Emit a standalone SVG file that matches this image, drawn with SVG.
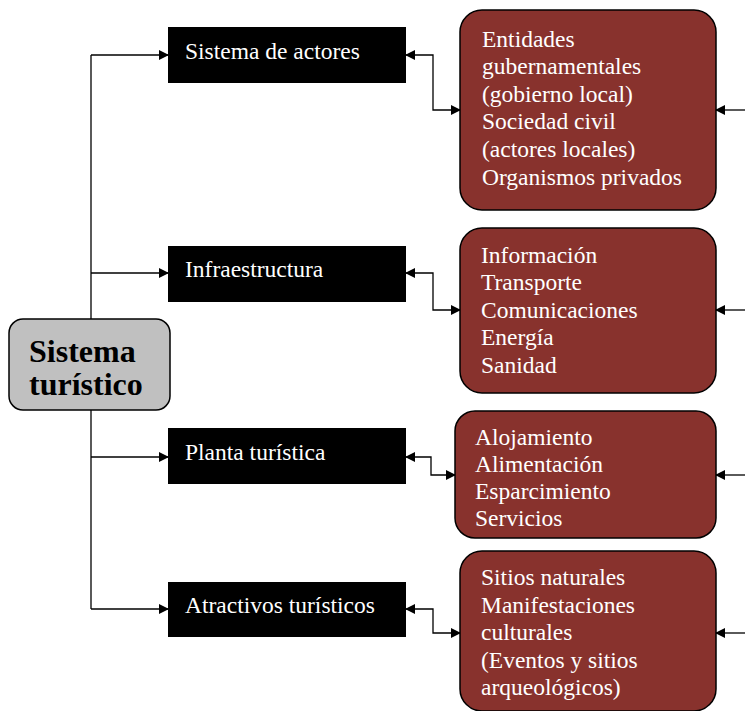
<svg xmlns="http://www.w3.org/2000/svg" width="745" height="711" viewBox="0 0 745 711">
<defs>
<marker id="ah" markerWidth="10" markerHeight="10" refX="9" refY="5" orient="auto" markerUnits="userSpaceOnUse">
<path d="M0,0 L10,5 L0,10 z" fill="#000"/>
</marker>
<marker id="as" markerWidth="10" markerHeight="10" refX="1" refY="5" orient="auto" markerUnits="userSpaceOnUse">
<path d="M10,0 L0,5 L10,10 z" fill="#000"/>
</marker>
<style>
.ln{fill:none;stroke:#000;stroke-width:1.3}
.blk{fill:#000}
.red{fill:#88322d;stroke:#000;stroke-width:1.5}
.ctr{fill:#c0c0c0;stroke:#000;stroke-width:1.5}
text{font-family:'Liberation Serif','Times New Roman',Times,serif}
.wt{font-size:23.5px;fill:#fff}
.bt{font-size:32px;font-weight:bold;fill:#000}
</style>
</defs>
<rect width="745" height="711" fill="#fff"/>
<g id="connectors">
<path class="ln" d="M91,609 L91,55"/>
<path class="ln" d="M91,55 L168,55" marker-end="url(#ah)"/>
<path class="ln" d="M91,273 L168,273" marker-end="url(#ah)"/>
<path class="ln" d="M91,457 L168,457" marker-end="url(#ah)"/>
<path class="ln" d="M91,609 L168,609" marker-end="url(#ah)"/>
<path class="ln" d="M406,55 L433,55 L433,110 L460,110" marker-start="url(#as)" marker-end="url(#ah)"/>
<path class="ln" d="M406,273 L433,273 L433,310 L460,310" marker-start="url(#as)" marker-end="url(#ah)"/>
<path class="ln" d="M406,457 L431,457 L431,475 L455,475" marker-start="url(#as)" marker-end="url(#ah)"/>
<path class="ln" d="M406,609 L433,609 L433,633 L460,633" marker-start="url(#as)" marker-end="url(#ah)"/>
<path class="ln" d="M745,110 L716,110" marker-end="url(#ah)"/>
<path class="ln" d="M745,310 L716,310" marker-end="url(#ah)"/>
<path class="ln" d="M745,475 L716,475" marker-end="url(#ah)"/>
<path class="ln" d="M745,633 L716,633" marker-end="url(#ah)"/>
</g>
<g id="sistema-turistico">
<rect class="ctr" x="9" y="319" width="161" height="91" rx="14"/>
<text class="bt" x="29" y="362">Sistema</text>
<text class="bt" x="29" y="395">turístico</text>
</g>
<g id="sistema-actores">
<rect class="blk" x="168" y="27" width="238" height="56"/>
<text class="wt" x="185" y="59">Sistema de actores</text>
</g>
<g id="infraestructura">
<rect class="blk" x="168" y="246" width="238" height="56"/>
<text class="wt" x="185" y="277">Infraestructura</text>
</g>
<g id="planta-turistica">
<rect class="blk" x="168" y="428" width="238" height="56"/>
<text class="wt" x="185" y="460">Planta turística</text>
</g>
<g id="atractivos-turisticos">
<rect class="blk" x="168" y="582" width="238" height="55"/>
<text class="wt" x="185" y="613">Atractivos turísticos</text>
</g>
<g id="actores-detalle">
<rect class="red" x="460" y="10" width="256" height="200" rx="22"/>
<text class="wt" x="482" y="47">Entidades</text>
<text class="wt" x="482" y="74">gubernamentales</text>
<text class="wt" x="482" y="102">(gobierno local)</text>
<text class="wt" x="482" y="129">Sociedad civil</text>
<text class="wt" x="482" y="157">(actores locales)</text>
<text class="wt" x="482" y="185">Organismos privados</text>
</g>
<g id="infraestructura-detalle">
<rect class="red" x="460" y="228" width="256" height="165" rx="22"/>
<text class="wt" x="481" y="263">Información</text>
<text class="wt" x="481" y="290">Transporte</text>
<text class="wt" x="481" y="318">Comunicaciones</text>
<text class="wt" x="481" y="345">Energía</text>
<text class="wt" x="481" y="373">Sanidad</text>
</g>
<g id="planta-detalle">
<rect class="red" x="455" y="411" width="261" height="127" rx="20"/>
<text class="wt" x="475" y="445">Alojamiento</text>
<text class="wt" x="475" y="472">Alimentación</text>
<text class="wt" x="475" y="499">Esparcimiento</text>
<text class="wt" x="475" y="526">Servicios</text>
</g>
<g id="atractivos-detalle">
<rect class="red" x="460" y="551" width="256" height="160" rx="22"/>
<text class="wt" x="481" y="585">Sitios naturales</text>
<text class="wt" x="481" y="613">Manifestaciones</text>
<text class="wt" x="481" y="640">culturales</text>
<text class="wt" x="481" y="668">(Eventos y sitios</text>
<text class="wt" x="481" y="695">arqueológicos)</text>
</g>
</svg>
